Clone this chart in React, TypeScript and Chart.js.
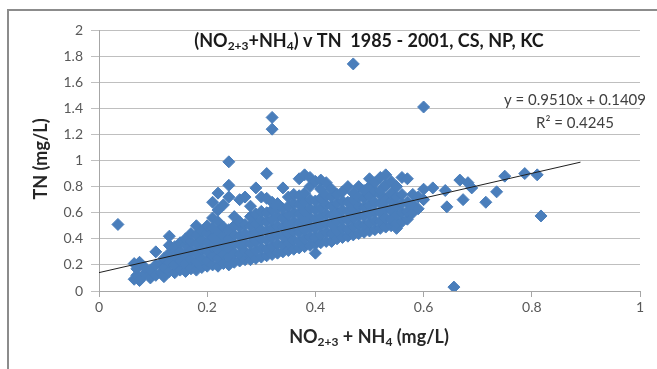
import React, { useEffect, useRef } from 'react';
import { Chart, registerables } from 'chart.js';
Chart.register(...registerables);

// ---- data ----
const xTickLabels = ['0', '0.2', '0.4', '0.6', '0.8', '1'];
const yTickLabels = ['0', '0.2', '0.4', '0.6', '0.8', '1', '1.2', '1.4', '1.6', '1.8', '2'];

const trendSlope = 0.951;
const trendIntercept = 0.1409;
const trendXStart = 0;
const trendXEnd = 0.89;
const equationText = 'y = 0.9510x + 0.1409';
const r2Text = 'R\u00B2 = 0.4245';

// columns: [NO2+3 + NH4, list of TN values at that x]
const lowBand: [number, number[]][] = [
  [0.035, [0.51]],
  [0.065, [0.09, 0.21]],
  [0.07, [0.12, 0.17]],
  [0.075, [0.08, 0.22]],
  [0.085, [0.13, 0.18]],
  [0.095, [0.1, 0.16]],
  [0.105, [0.12, 0.2, 0.3]],
  [0.115, [0.14, 0.21]],
  [0.12, [0.11, 0.18, 0.25]],
  [0.13, [0.15, 0.22, 0.29, 0.35, 0.42]],
  [0.14, [0.14, 0.2, 0.27, 0.34]],
  [0.15, [0.16, 0.23, 0.3, 0.37]],
  [0.16, [0.15, 0.21, 0.28, 0.35, 0.4]],
  [0.17, [0.17, 0.24, 0.31, 0.38, 0.44]],
  [0.18, [0.16, 0.22, 0.29, 0.36, 0.43, 0.5]],
  [0.19, [0.18, 0.25, 0.32, 0.39, 0.46]],
  [0.2, [0.19, 0.23, 0.3, 0.37, 0.44, 0.5]],
  [0.21, [0.2, 0.27, 0.34, 0.41, 0.48, 0.56, 0.68]],
  [0.22, [0.19, 0.25, 0.32, 0.39, 0.46, 0.53, 0.62, 0.75]],
  [0.23, [0.21, 0.28, 0.35, 0.42, 0.49, 0.66]],
  [0.24, [0.2, 0.26, 0.33, 0.4, 0.47, 0.72, 0.81, 0.99]],
  [0.25, [0.22, 0.29, 0.36, 0.43, 0.5, 0.57]],
  [0.26, [0.23, 0.28, 0.35, 0.42, 0.49, 0.53, 0.7]],
  [0.27, [0.24, 0.3, 0.37, 0.44, 0.51, 0.72]],
  [0.28, [0.24, 0.29, 0.36, 0.43, 0.5, 0.57, 0.65]],
  [0.29, [0.25, 0.31, 0.38, 0.45, 0.52, 0.59, 0.79]],
];

const midBand: [number, number[]][] = [
  [0.3, [0.26, 0.33, 0.4, 0.47, 0.54, 0.61, 0.72]],
  [0.31, [0.27, 0.32, 0.39, 0.46, 0.53, 0.6, 0.71, 0.9]],
  [0.32, [0.28, 0.34, 0.41, 0.48, 0.55, 0.62, 0.68, 1.24, 1.33]],
  [0.33, [0.29, 0.36, 0.43, 0.5, 0.57, 0.64, 0.67]],
  [0.34, [0.3, 0.35, 0.42, 0.49, 0.56, 0.63, 0.79]],
  [0.35, [0.31, 0.37, 0.44, 0.51, 0.58, 0.65, 0.72]],
  [0.36, [0.32, 0.39, 0.46, 0.53, 0.6, 0.67, 0.74]],
  [0.37, [0.33, 0.38, 0.45, 0.52, 0.59, 0.66, 0.73, 0.86]],
  [0.38, [0.34, 0.4, 0.47, 0.54, 0.61, 0.68, 0.75, 0.89]],
  [0.39, [0.35, 0.42, 0.49, 0.56, 0.63, 0.7, 0.8, 0.87]],
  [0.4, [0.29, 0.36, 0.41, 0.48, 0.55, 0.62, 0.69, 0.84]],
  [0.41, [0.37, 0.43, 0.5, 0.57, 0.64, 0.71, 0.78, 0.85]],
  [0.42, [0.38, 0.45, 0.52, 0.59, 0.66, 0.73, 0.83]],
  [0.43, [0.38, 0.44, 0.51, 0.58, 0.65, 0.72, 0.78]],
  [0.44, [0.4, 0.46, 0.53, 0.6, 0.67, 0.74]],
];

const highBand: [number, number[]][] = [
  [0.45, [0.41, 0.48, 0.55, 0.62, 0.69, 0.76]],
  [0.46, [0.42, 0.47, 0.54, 0.61, 0.68, 0.8]],
  [0.47, [0.43, 0.49, 0.56, 0.63, 0.7, 0.75, 1.74]],
  [0.48, [0.44, 0.51, 0.58, 0.65, 0.72, 0.8]],
  [0.49, [0.45, 0.5, 0.57, 0.64, 0.71, 0.77]],
  [0.5, [0.46, 0.52, 0.59, 0.66, 0.73, 0.8, 0.86]],
  [0.51, [0.47, 0.54, 0.61, 0.68, 0.76, 0.83]],
  [0.52, [0.48, 0.53, 0.6, 0.67, 0.74, 0.77, 0.87]],
  [0.53, [0.49, 0.56, 0.63, 0.7, 0.81, 0.89]],
  [0.54, [0.5, 0.55, 0.62, 0.69, 0.75, 0.84]],
  [0.55, [0.48, 0.52, 0.58, 0.65, 0.72, 0.8]],
  [0.56, [0.53, 0.6, 0.67, 0.74, 0.87]],
  [0.57, [0.55, 0.61, 0.68, 0.86]],
  [0.58, [0.6, 0.66, 0.74]],
  [0.59, [0.63, 0.72]],
  [0.6, [0.7, 0.78, 1.41]],
];

const sparseX = [0.617, 0.64, 0.643, 0.656, 0.667, 0.673, 0.682, 0.689, 0.715, 0.735, 0.75, 0.787, 0.81, 0.817];
const sparseY = [0.79, 0.77, 0.645, 0.03, 0.85, 0.7, 0.83, 0.79, 0.68, 0.76, 0.88, 0.9, 0.89, 0.575];

// ---- styling ----
const FONT = 'Lato, "Open Sans", "DejaVu Sans", sans-serif';
const MARKER = '#4a7ebb';

type Part = { t: string; sub?: boolean };

function drawRich(ctx: CanvasRenderingContext2D, parts: Part[], cx: number, cy: number, size: number, bold: boolean, color: string) {
  const w = bold ? 'bold ' : '';
  const subSize = Math.round(size * 0.68);
  let total = 0;
  const widths = parts.map((p) => {
    ctx.font = `${w}${p.sub ? subSize : size}px ${FONT}`;
    const m = ctx.measureText(p.t).width;
    total += m;
    return m;
  });
  let x = cx - total / 2;
  ctx.fillStyle = color;
  ctx.textAlign = 'left';
  ctx.textBaseline = 'middle';
  parts.forEach((p, i) => {
    ctx.font = `${w}${p.sub ? subSize : size}px ${FONT}`;
    ctx.fillText(p.t, x, p.sub ? cy + size * 0.3 : cy);
    x += widths[i];
  });
}

const textPlugin = {
  id: 'textPlugin',
  afterDraw(chart: any) {
    const ctx: CanvasRenderingContext2D = chart.ctx;
    ctx.save();
    drawRich(ctx, [
      { t: '(NO' }, { t: '2+3', sub: true }, { t: '+NH' }, { t: '4', sub: true },
      { t: ') v TN  1985 - 2001, CS, NP, KC' },
    ], 369, 41, 18, true, '#1a1a1a');
    drawRich(ctx, [{ t: equationText }], 575, 100, 15, false, '#404040');
    drawRich(ctx, [{ t: r2Text }], 575, 123, 15, false, '#404040');
    drawRich(ctx, [
      { t: 'NO' }, { t: '2+3', sub: true }, { t: ' + NH' }, { t: '4', sub: true }, { t: ' (mg/L)' },
    ], 369, 337, 18, true, '#262626');
    ctx.translate(41, 159);
    ctx.rotate(-Math.PI / 2);
    drawRich(ctx, [{ t: 'TN (mg/L)' }], 0, 0, 18, true, '#262626');
    ctx.restore();
  },
};

export default function App() {
  const ref = useRef<HTMLCanvasElement | null>(null);

  useEffect(() => {
    if (!ref.current) return;
    const pts: { x: number; y: number }[] = [];
    [lowBand, midBand, highBand].forEach((group) =>
      group.forEach(([x, ys]) => ys.forEach((y) => pts.push({ x, y })))
    );
    sparseX.forEach((x, i) => pts.push({ x, y: sparseY[i] }));

    const trend = [
      { x: trendXStart, y: trendSlope * trendXStart + trendIntercept },
      { x: trendXEnd, y: trendSlope * trendXEnd + trendIntercept },
    ];

    const chart = new Chart(ref.current, {
      type: 'scatter',
      data: {
        datasets: [
          {
            type: 'line',
            data: trend,
            borderColor: '#1f1f1f',
            borderWidth: 1,
            pointRadius: 0,
            fill: false,
            order: 0,
          } as any,
          {
            type: 'scatter',
            data: pts,
            pointStyle: 'rectRot',
            pointRadius: 6,
            backgroundColor: MARKER,
            borderColor: MARKER,
            borderWidth: 1,
            order: 1,
          } as any,
        ],
      },
      options: {
        animation: false,
        responsive: false,
        maintainAspectRatio: false,
        layout: { padding: { left: 0, right: 17, top: 30, bottom: 0 } },
        plugins: {
          legend: { display: false },
          tooltip: { enabled: false },
          title: { display: false },
        },
        scales: {
          x: {
            type: 'linear',
            min: 0,
            max: 1,
            ticks: {
              stepSize: 0.2,
              callback: (_v: any, i: number) => xTickLabels[i],
              color: '#595959',
              font: { family: FONT, size: 14 },
              padding: 2,
              maxRotation: 0,
            },
            grid: { drawOnChartArea: false, drawTicks: true, tickLength: 6, color: '#a6a6a6' },
            border: { display: true, color: '#a6a6a6' },
            afterFit: (s: any) => { s.height = 78; },
          },
          y: {
            type: 'linear',
            min: 0,
            max: 2,
            ticks: {
              stepSize: 0.2,
              callback: (_v: any, i: number) => yTickLabels[i],
              color: '#595959',
              font: { family: FONT, size: 14 },
              padding: 8,
            },
            grid: { color: '#bfbfbf', drawTicks: true, tickLength: 8 },
            border: { display: true, color: '#a6a6a6' },
            afterFit: (s: any) => { s.width = 99; },
          },
        },
      } as any,
      plugins: [textPlugin],
    });
    return () => chart.destroy();
  }, []);

  return (
    <div style={{ position: 'fixed', left: 0, top: 0, width: 657, height: 369, background: '#fff', overflow: 'hidden' }}>
      <canvas ref={ref} width={657} height={369} style={{ position: 'absolute', left: 0, top: 0, width: 657, height: 369 }} />
      <div style={{ position: 'absolute', left: 7, top: 9, width: 700, height: 400, borderTop: '2px solid #8c8c8c', borderLeft: '2px solid #8c8c8c', pointerEvents: 'none' }} />
    </div>
  );
}
